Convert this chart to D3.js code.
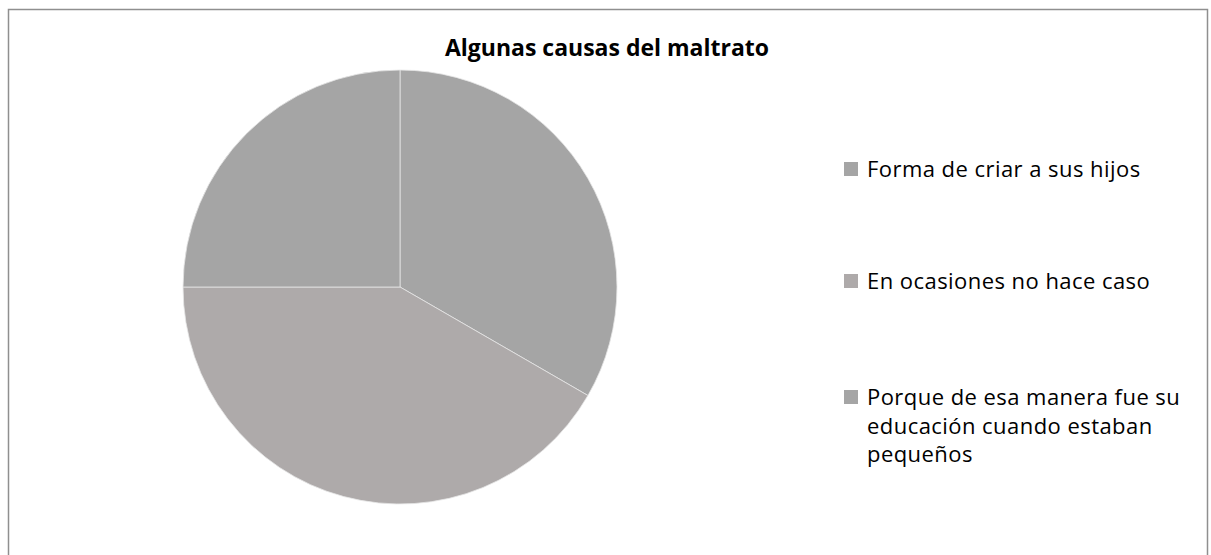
<!DOCTYPE html>
<html>
<head>
<meta charset="utf-8">
<script src="https://cdn.jsdelivr.net/npm/d3@7"></script>
<style>
  body { margin: 0; background: #fff; }
  svg { display: block; font-family: "Open Sans", Lato, sans-serif; }
</style>
</head>
<body>
<div id="chart"></div>
<script>
// chart data
var title = "Algunas causas del maltrato";
var categories = ["Forma de criar a sus hijos", "En ocasiones no hace caso",
                  "Porque de esa manera fue su educación cuando estaban pequeños"];
var values = [4, 5, 3];
var colors = ["#a5a5a5", "#aeaaaa", "#a5a5a5"];

var width = 1211, height = 555;
var cx = 400, cy = 287, radius = 217;

var svg = d3.select("#chart").append("svg")
    .attr("width", width)
    .attr("height", height);

// outer frame (runs off the bottom of the picture)
svg.append("rect")
    .attr("x", 8.5).attr("y", 9.5)
    .attr("width", 1199).attr("height", 560)
    .attr("fill", "none")
    .attr("stroke", "#8f8f8f")
    .attr("stroke-width", 1.5);

svg.append("text")
    .attr("x", 607).attr("y", 56)
    .attr("text-anchor", "middle")
    .attr("font-weight", "bold")
    .attr("font-size", 23)
    .attr("fill", "#000")
    .text(title);

var pie = d3.pie().sort(null).value(function(d) { return d; });
var arc = d3.arc().innerRadius(0).outerRadius(radius);

svg.append("g")
    .attr("transform", "translate(" + cx + "," + cy + ")")
    .selectAll("path")
    .data(pie(values))
    .enter().append("path")
      .attr("d", arc)
      .attr("fill", function(d, i) { return colors[i]; })
      .attr("stroke", "#e6e6e6")
      .attr("stroke-width", 0.8);

// legend
var legendX = 844, textX = 867, maxW = 322, lineH = 28.5;
var legendY = [177, 289, 405]; // baseline of first line of each item

var legend = svg.append("g").attr("class", "legend");

categories.forEach(function(name, i) {
  var g = legend.append("g");
  g.append("rect")
      .attr("x", legendX).attr("y", legendY[i] - 15)
      .attr("width", 14).attr("height", 14)
      .attr("fill", colors[i]);
  var t = g.append("text")
      .attr("x", textX).attr("y", legendY[i])
      .attr("font-size", 22)
      .attr("letter-spacing", 0.45)
      .attr("fill", "#000");
  // simple word wrap
  var words = name.split(" "), line = [];
  var tspan = t.append("tspan").attr("x", textX).attr("dy", 0);
  words.forEach(function(w) {
    line.push(w);
    tspan.text(line.join(" "));
    if (tspan.node().getComputedTextLength() > maxW && line.length > 1) {
      line.pop();
      tspan.text(line.join(" "));
      line = [w];
      tspan = t.append("tspan").attr("x", textX).attr("dy", lineH).text(w);
    }
  });
});
</script>
</body>
</html>
